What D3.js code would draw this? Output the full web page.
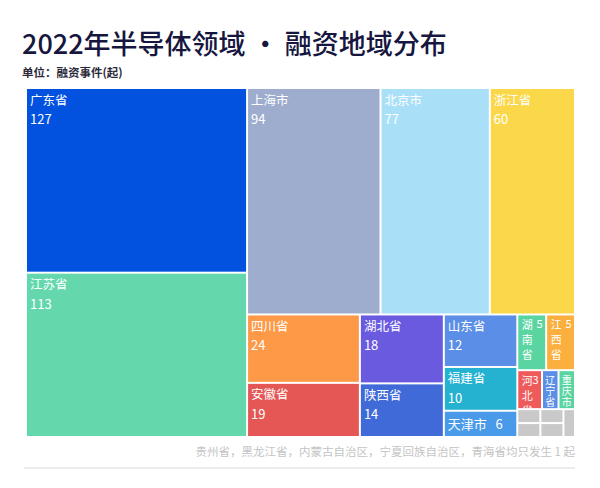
<!DOCTYPE html>
<html>
<head>
<meta charset="utf-8">
<script src="https://cdn.jsdelivr.net/npm/d3@7"></script>
<style>
  body { margin: 0; background: #fff; }
  text { font-family: "Noto Sans CJK SC", "Noto Sans", sans-serif; }
</style>
</head>
<body>
<div id="chart"></div>
<script>
// data, in the order of the source chart
const regions = ["广东省", "江苏省", "上海市", "北京市", "浙江省", "四川省", "安徽省", "湖北省", "陕西省",
                 "山东省", "福建省", "天津市", "湖南省", "江西省", "河北省", "辽宁省", "重庆市",
                 "贵州省", "黑龙江省", "内蒙古自治区", "宁夏回族自治区", "青海省"];
const counts = [127, 113, 94, 77, 60, 24, 19, 18, 14, 12, 10, 6, 5, 5, 3, 2, 2, 1, 1, 1, 1, 1];
const colors = ["#0352df", "#64d8ac", "#9eadcd", "#a9e0f8", "#fbd84a", "#fd9947", "#e55754", "#6a5ae0", "#3f6ad8",
                "#5b8ee6", "#25b1d0", "#4a9aea", "#5ad5a2", "#fbaf3e", "#ef5a5a", "#5b8ee6", "#5ad5a2",
                "#c9c9c9", "#c9c9c9", "#c9c9c9", "#c9c9c9", "#c9c9c9"];

const width = 600, height = 488;
const tmLeft = 27, tmTop = 89, tmW = 547, tmH = 347;

const svg = d3.select("#chart")
  .append("svg")
  .attr("width", width)
  .attr("height", height);

// title block
svg.append("text")
  .attr("x", 22).attr("y", 54)
  .attr("font-size", 27)
  .attr("font-weight", 500)
  .attr("fill", "#16163f")
  .text("2022年半导体领域 · 融资地域分布");

svg.append("text")
  .attr("x", 22).attr("y", 77)
  .attr("font-size", 11.5)
  .attr("font-weight", 700)
  .attr("fill", "#2a2a3a")
  .text("单位：融资事件(起)");

// hierarchy + treemap
const root = d3.hierarchy({children: regions.map((r, i) => ({name: r, value: counts[i], color: colors[i], gray: i >= 17}))})
  .sum(d => d.value || 0)
  .sort((a, b) => b.value - a.value);

d3.treemap()
  .tile(d3.treemapSquarify)
  .size([tmW, tmH])
  .paddingInner(2)
  .round(false)(root);

const g = svg.append("g").attr("transform", `translate(${tmLeft},${tmTop})`);

const cell = g.selectAll("g.cell")
  .data(root.leaves())
  .join("g")
  .attr("class", "cell")
  .attr("transform", d => `translate(${d.x0},${d.y0})`);

cell.append("rect")
  .attr("width", d => d.x1 - d.x0)
  .attr("height", d => d.y1 - d.y0)
  .attr("fill", d => d.data.color);

// labels
cell.filter(d => !d.data.gray).each(function(d) {
  const el = d3.select(this);
  const w = d.x1 - d.x0, h = d.y1 - d.y0;
  if (w < 34) {
    // narrow cell: name written top to bottom
    const fs = w < 20 ? 10 : 11;
    el.append("text")
      .attr("x", w < 20 ? w / 2 : 9)
      .attr("y", 4)
      .attr("font-size", fs)
      .attr("fill", "#fff")
      .style("writing-mode", "vertical-rl")
      .style("letter-spacing", w < 20 ? "1px" : "4px")
      .text(d.data.name);
    if (w >= 20) {
      el.append("text")
        .attr("x", w - 2.5).attr("y", 13)
        .attr("text-anchor", "end")
        .attr("font-size", fs)
        .attr("fill", "#fff")
        .text(d.value);
    }
  } else if (h < 34) {
    el.append("text")
      .attr("x", 3).attr("y", h / 2 + 5)
      .attr("font-size", 13)
      .attr("fill", "#fff")
      .text(d.data.name + "\u00a0\u00a0\u00a0" + d.value);
  } else {
    el.append("text")
      .attr("x", 3).attr("y", 15.5)
      .attr("font-size", 12.5)
      .attr("fill", "#fff")
      .text(d.data.name);
    el.append("text")
      .attr("x", 3).attr("y", 35)
      .attr("font-size", 13)
      .attr("fill", "#fff")
      .text(d.value);
  }
});

// footnote
svg.append("text")
  .attr("x", 575).attr("y", 456)
  .attr("text-anchor", "end")
  .attr("font-size", 11.5)
  .attr("fill", "#c4c4c4")
  .text("贵州省，黑龙江省，内蒙古自治区，宁夏回族自治区，青海省均只发生 1 起");

svg.append("line")
  .attr("x1", 24).attr("x2", 575)
  .attr("y1", 468).attr("y2", 468)
  .attr("stroke", "#ececec")
  .attr("stroke-width", 2);
</script>
</body>
</html>
